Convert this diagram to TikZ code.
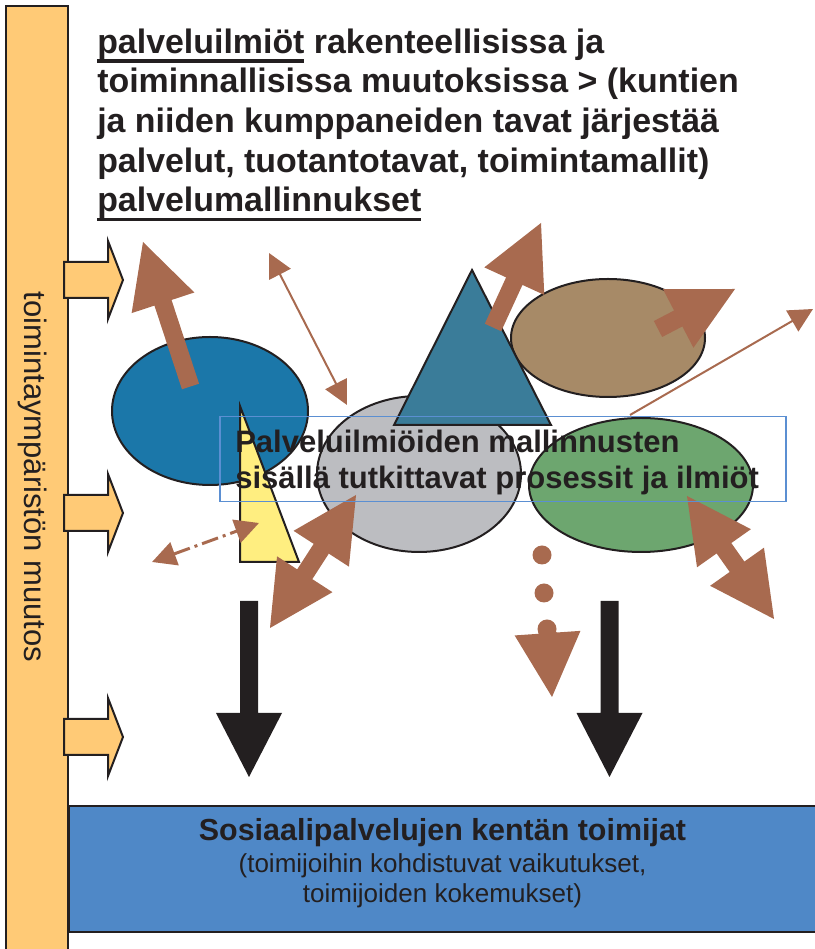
\documentclass[tikz,border=0pt]{standalone}
\usepackage{fontspec}
\setmainfont{Liberation Sans}
\usepackage{tikz}
\usetikzlibrary{calc}
\usetikzlibrary{arrows.meta}
\usetikzlibrary{shapes.geometric}
\usetikzlibrary{positioning}
\usepackage{color}

\definecolor{barorange}{HTML}{FFCA76}
\definecolor{ovalblue}{HTML}{1B77A9}
\definecolor{ovalgray}{HTML}{BCBDC1}
\definecolor{ovalbrown}{HTML}{A78A67}
\definecolor{ovalgreen}{HTML}{6DA66F}
\definecolor{triteal}{HTML}{3A7C99}
\definecolor{triyellow}{HTML}{FFEE80}
\definecolor{arrowbrown}{HTML}{A86A4F}
\definecolor{frameblue}{HTML}{5B8FD2}
\definecolor{fieldblue}{HTML}{4F88C7}
\definecolor{ink}{HTML}{231F20}

\tikzset{
    shapeline/.style={draw=ink,line width=0.02in},
    oval/.style={ellipse,draw=ink,line width=0.02in,inner sep=0pt},
    thinlink/.style={draw=arrowbrown,line width=0.02in},
    >={Triangle[length=0.24in,width=0.24in]}
}

% underlined word with a thick rule
\newcommand{\uword}[1]{\leavevmode\setbox0=\hbox{#1}\rlap{\rule[-6.8pt]{\wd0}{2.4pt}}\box0\relax}

% block arrow from #2 to #3
\newcommand{\fatarrow}[3][arrowbrown]{%
    \coordinate (fa-base) at ($(#3)!0.64in!(#2)$);
    \fill[#1] ($(#2)!0.09in!90:(#3)$) -- ($(fa-base)!0.09in!90:(#3)$)
        -- ($(fa-base)!0.33in!90:(#3)$) -- (#3)
        -- ($(fa-base)!0.33in!-90:(#3)$) -- ($(fa-base)!0.09in!-90:(#3)$)
        -- ($(#2)!0.09in!-90:(#3)$) -- cycle;
}

% block arrow with two heads
\newcommand{\fatdouble}[3][arrowbrown]{%
    \coordinate (fd-a) at ($(#2)!0.64in!(#3)$);
    \coordinate (fd-b) at ($(#3)!0.64in!(#2)$);
    \fill[#1] (#2) -- ($(fd-a)!0.33in!90:(#3)$) -- ($(fd-a)!0.09in!90:(#3)$)
        -- ($(fd-b)!0.09in!90:(#3)$) -- ($(fd-b)!0.33in!90:(#3)$) -- (#3)
        -- ($(fd-b)!0.33in!-90:(#3)$) -- ($(fd-b)!0.09in!-90:(#3)$)
        -- ($(fd-a)!0.09in!-90:(#3)$) -- ($(fd-a)!0.33in!-90:(#3)$) -- cycle;
}

\begin{document}
\begin{tikzpicture}
    \useasboundingbox (0,0) rectangle (8.15in,9.49in);

    % bottom field
    \node[anchor=north west,draw=ink,line width=0.02in,fill=fieldblue,minimum width=7.49in,minimum height=1.26in,inner sep=0pt] (actorsbox) at (0.68in,1.44in) {};
    \node[anchor=north,inner sep=0pt,align=center,text=ink,font={\fontsize{18.8}{21.7}\selectfont}] (actorstext) at (4.425in,1.313in)
        {{\fontsize{22}{26}\selectfont\bfseries Sosiaalipalvelujen kentän toimijat}\\[2pt](toimijoihin kohdistuvat vaikutukset,\\toimijoiden kokemukset)};

    % side bar
    \draw[shapeline,fill=barorange] (0.06in,-0.1in) rectangle (0.68in,9.43in);
    \node[rotate=-90,text=ink,font={\fontsize{22.4}{26}\selectfont}] (changetext) at (0.33in,4.72in) {toimintaympäristön muutos};
    \foreach \y in {6.69in,4.36in,2.12in}
        \draw[shapeline,fill=barorange,shift={(0,\y)}] (0.64in,0.18in) -- (1.08in,0.18in) -- (1.08in,0.39in) -- (1.23in,0) -- (1.08in,-0.39in) -- (1.08in,-0.18in) -- (0.64in,-0.18in) -- cycle;

    \node[anchor=north west,inner sep=0pt,align=left,text=ink,font={\fontsize{24.5}{28.6}\selectfont\bfseries}] (heading) at (0.97in,9.205in)
        {\uword{palveluilmiöt} rakenteellisissa ja\\toiminnallisissa muutoksissa > (kuntien\\ja niiden kumppaneiden tavat järjestää\\palvelut, tuotantotavat, toimintamallit)\\\uword{palvelumallinnukset}};

    % ovals and triangles
    \node[oval,fill=ovalblue,minimum width=1.96in,minimum height=1.48in] (blueoval) at (2.10in,5.38in) {};
    \node[oval,fill=ovalgray,minimum width=2.04in,minimum height=1.56in] (grayoval) at (4.19in,4.75in) {};
    \node[oval,fill=ovalbrown,minimum width=1.94in,minimum height=1.18in] (brownoval) at (6.08in,6.11in) {};
    \node[oval,fill=ovalgreen,minimum width=2.24in,minimum height=1.34in] (greenoval) at (6.41in,4.64in) {};
    \draw[shapeline,fill=triteal] (4.72in,6.79in) -- (5.51in,5.24in) -- (3.94in,5.24in) -- cycle;
    \draw[shapeline,fill=triyellow] (2.40in,5.43in) -- (2.99in,3.87in) -- (2.40in,3.87in) -- cycle;

    % brown arrows
    \coordinate (upA) at (1.905in,5.625in);
    \coordinate (upB) at (1.43in,7.07in);
    \coordinate (tealA) at (4.93in,6.215in);
    \coordinate (tealB) at (5.41in,7.26in);
    \coordinate (brownA) at (6.58in,6.20in);
    \coordinate (brownB) at (7.35in,6.60in);
    \coordinate (grayA) at (3.56in,4.54in);
    \coordinate (grayB) at (2.70in,3.21in);
    \coordinate (greenA) at (6.87in,4.53in);
    \coordinate (greenB) at (7.74in,3.30in);
    \coordinate (dotA) at (5.475in,3.165in);
    \coordinate (dotB) at (5.52in,2.52in);
    \fatarrow{upA}{upB}
    \fatarrow{tealA}{tealB}
    \fatarrow{brownA}{brownB}
    \fatdouble{grayA}{grayB}
    \fatdouble{greenA}{greenB}
    \foreach \p in {(5.42in,3.94in),(5.44in,3.56in),(5.47in,3.20in)}
        \fill[arrowbrown] \p circle (0.095in);
    \fatarrow{dotA}{dotB}

    \coordinate (linkA) at (2.69in,6.96in);
    \coordinate (linkB) at (3.47in,5.44in);
    \coordinate (dashA) at (1.52in,3.87in);
    \coordinate (dashB) at (2.59in,4.26in);
    \coordinate (outA) at (6.30in,5.34in);
    \coordinate (outB) at (8.13in,6.40in);
    \draw[thinlink,<->] (linkA) -- (linkB);
    \draw[thinlink,<->,line width=0.03in,dash pattern=on 0.17in off 0.05in on 0.03in off 0.05in] (dashA) -- (dashB);
    \draw[thinlink,->] (outA) -- (outB);

    % black arrows
    \coordinate (leftA) at (2.49in,3.48in);
    \coordinate (leftB) at (2.49in,1.72in);
    \coordinate (rightA) at (6.095in,3.48in);
    \coordinate (rightB) at (6.095in,1.72in);
    \fatarrow[ink]{leftA}{leftB}
    \fatarrow[ink]{rightA}{rightB}

    % model frame
    \node[anchor=north west,draw=frameblue,line width=0.015in,minimum width=5.66in,minimum height=0.85in,inner sep=0pt] (scopebox) at (2.19in,5.33in) {};
    \node[anchor=north west,inner sep=0pt,align=left,text=ink,font={\fontsize{22.4}{26}\selectfont\bfseries}] (scopetext) at (2.35in,5.196in)
        {Palveluilmiöiden mallinnusten\\sisällä tutkittavat prosessit ja ilmiöt};
\end{tikzpicture}
\end{document}
